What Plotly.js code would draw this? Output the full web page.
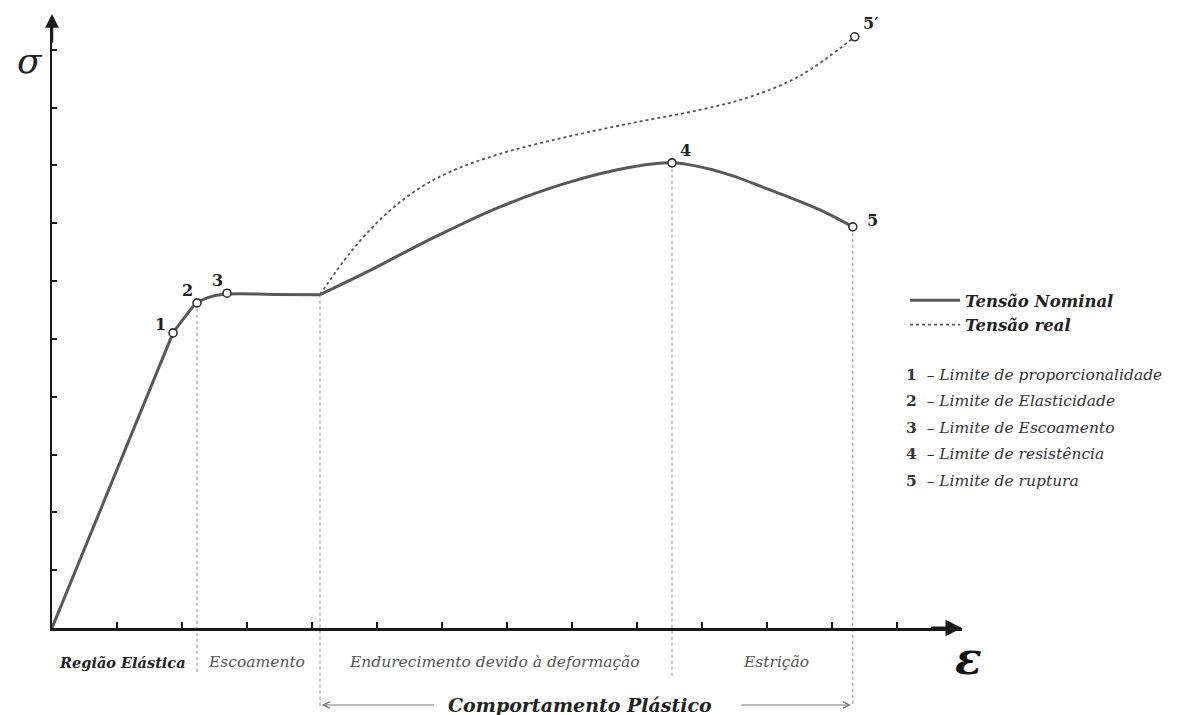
<!DOCTYPE html>
<html><head><meta charset="utf-8">
<script src="https://cdn.plot.ly/plotly-3.0.1.min.js"></script>
<style>html,body{margin:0;padding:0;background:#fff;} #chart{width:1180px;height:715px;}</style>
</head><body><div id="chart"></div>
<script>
// ---- data ----
const xTicks = [1,2,3,4,5,6,7,8,9,10,11,12,13];
const yTicks = [1,2,3,4,5,6,7,8,9,10];

const elasticStrain = [0, 1.862];
const elasticStress = [0, 5.104];

const yieldStrain = [1.862, 2.046, 2.231, 2.462, 2.692, 3.4, 4.123];
const yieldStress = [5.104, 5.381, 5.623, 5.735, 5.775, 5.77, 5.765];

const hardStrain = [4.123, 4.846, 5.862, 6.892, 7.923, 8.938, 9.538, 10.277, 11.046, 11.815, 12.32];
const hardStress = [5.765, 6.159, 6.747, 7.284, 7.699, 7.976, 8.045, 7.889, 7.578, 7.232, 6.938];

const trueStrain = [4.123, 4.585, 5.092, 5.615, 6.123, 6.892, 7.923, 8.938, 9.969, 10.738, 11.508, 12.35];
const trueStress = [5.765, 6.488, 7.111, 7.578, 7.889, 8.201, 8.495, 8.737, 8.962, 9.187, 9.55, 10.225];

const pointLabels = ['1', '2', '3', '4', '5', '5′'];
const pointStrain = [1.862, 2.231, 2.692, 9.538, 12.32, 12.35];
const pointStress = [5.104, 5.623, 5.79, 8.045, 6.938, 10.225];

const seriesNames = ['Tensão Nominal', 'Tensão real'];
const regionLabels = ['Região Elástica', 'Escoamento', 'Endurecimento devido à deformação', 'Estrição'];
const plasticLabel = 'Comportamento Plástico';
const defNumbers = ['1', '2', '3', '4', '5'];
const defTexts = ['Limite de proporcionalidade', 'Limite de Elasticidade', 'Limite de Escoamento', 'Limite de resistência', 'Limite de ruptura'];
const axisSymbols = ['σ', 'ε'];

// ---- styling / layout ----
const SERIF = 'DejaVu Serif, Liberation Serif, serif';
const NOM = '#585858';
const Y_MAX = 10.55;
const X_MAX = 14;
const py = v => v / Y_MAX; // data y -> paper y
const pxY = p => (628 - p) / 610; // pixel row -> paper y
const pxX = p => (p - 52) / 910;  // pixel column -> paper x

const traces = [
  {x: elasticStrain, y: elasticStress, mode: 'lines', name: seriesNames[0], legendgroup: 'nom',
   line: {color: NOM, width: 3}},
  {x: yieldStrain, y: yieldStress, mode: 'lines', legendgroup: 'nom', showlegend: false,
   line: {color: NOM, width: 3, shape: 'spline'}},
  {x: hardStrain, y: hardStress, mode: 'lines', legendgroup: 'nom', showlegend: false,
   line: {color: NOM, width: 3, shape: 'spline'}},
  {x: trueStrain, y: trueStress, mode: 'lines', name: seriesNames[1],
   line: {color: '#555555', width: 1.8, dash: 'dot', shape: 'spline'}},
  {x: pointStrain, y: pointStress, mode: 'markers', showlegend: false, cliponaxis: false,
   marker: {symbol: 'circle', size: 8, color: '#ffffff', line: {color: '#333333', width: 1.6}}}
];

const labelShift = [[-13, 8], [-10, 12], [-9, 13], [14, 12], [20, 6], [16, 13]];

const annotations = [];
pointLabels.forEach((t, i) => {
  annotations.push({x: pointStrain[i], y: pointStress[i], xref: 'x', yref: 'y', text: '<b>' + t + '</b>',
    xanchor: 'center', yanchor: 'middle',
    showarrow: false, xshift: labelShift[i][0], yshift: labelShift[i][1],
    font: {family: SERIF, size: 16, color: '#222'}});
});

// axis symbols
annotations.push({x: pxX(30), y: pxY(60), xref: 'paper', yref: 'paper', text: axisSymbols[0],
  xanchor: 'center', yanchor: 'middle',
  showarrow: false, font: {family: SERIF, size: 36, style: 'italic', color: '#222'}});
annotations.push({x: pxX(968), y: pxY(658), xref: 'paper', yref: 'paper', text: '<b>' + axisSymbols[1] + '</b>',
  xanchor: 'center', yanchor: 'middle', showarrow: false, font: {family: SERIF, size: 44, style: 'italic', color: '#111'}});

// axis arrows
annotations.push({x: 0, y: 10.62, ax: 0, ay: 10.1, xref: 'x', yref: 'y', axref: 'x', ayref: 'y', text: '',
  showarrow: true, arrowhead: 2, arrowsize: 1.1, arrowwidth: 2.5, arrowcolor: '#1a1a1a'});
annotations.push({x: 14.0, y: 0, ax: 13.5, ay: 0, xref: 'x', yref: 'y', axref: 'x', ayref: 'y', text: '',
  showarrow: true, arrowhead: 2, arrowsize: 1.1, arrowwidth: 3, arrowcolor: '#1a1a1a'});

// region labels under the axis
const regionCenters = [1.09, 3.14, 6.8, 11.14];
regionLabels.forEach((t, i) => {
  const bold = i === 0;
  annotations.push({x: regionCenters[i], y: pxY(662), xref: 'x', yref: 'paper', text: bold ? '<b>' + t + '</b>' : t,
    xanchor: 'center', yanchor: 'middle',
    showarrow: false, font: {family: SERIF, size: bold ? 14.5 : 15.5, style: 'italic', color: bold ? '#222' : '#555'}});
});
annotations.push({x: 8.12, y: pxY(705), xref: 'x', yref: 'paper', text: '<b>' + plasticLabel + '</b>',
  xanchor: 'center', yanchor: 'middle',
  showarrow: false, font: {family: SERIF, size: 19, style: 'italic', color: '#222'}});
// plastic-range arrows
annotations.push({x: hardStrain[0] + 0.03, y: pxY(705), ax: 5.9, ay: pxY(705), xref: 'x', yref: 'paper', axref: 'x', ayref: 'paper',
  text: '', showarrow: true, arrowhead: 5, arrowsize: 1.3, arrowwidth: 1, arrowcolor: '#777'});
annotations.push({x: pointStrain[4] - 0.03, y: pxY(705), ax: 10.58, ay: pxY(705), xref: 'x', yref: 'paper', axref: 'x', ayref: 'paper',
  text: '', showarrow: true, arrowhead: 5, arrowsize: 1.3, arrowwidth: 1, arrowcolor: '#777'});

// definitions list
defNumbers.forEach((n, i) => {
  annotations.push({x: pxX(904), y: pxY(374 + i * 26.5), xref: 'paper', yref: 'paper',
    xanchor: 'left', yanchor: 'middle', showarrow: false,
    text: '<b>' + n + '</b>  – <i>' + defTexts[i] + '</i>',
    font: {family: SERIF, size: 15.5, color: '#333'}});
});

// vertical dotted guides (from marked points down past the axis)
const guides = [
  [pointStrain[1], pointStress[1], pxY(672)],
  [yieldStrain[yieldStrain.length - 1], yieldStress[yieldStress.length - 1], pxY(708)],
  [pointStrain[3], pointStress[3], pxY(678)],
  [pointStrain[4], pointStress[4], pxY(706)]
];
const shapes = guides.map(g => ({type: 'line', xref: 'x', yref: 'paper', x0: g[0], x1: g[0], y0: py(g[1]), y1: g[2],
  line: {color: '#888', width: 1, dash: 'dot'}, layer: 'below'}));

const layout = {
  width: 1180, height: 715,
  margin: {l: 52, r: 1180 - 962, t: 18, b: 87, pad: 0},
  paper_bgcolor: '#ffffff', plot_bgcolor: '#ffffff',
  showlegend: true,
  legend: {x: pxX(905), y: pxY(283), xanchor: 'left', yanchor: 'top', itemwidth: 50,
    bgcolor: 'rgba(0,0,0,0)', font: {family: SERIF, size: 16.5, weight: 'bold', style: 'italic', color: '#222'},
    tracegroupgap: 0},
  xaxis: {range: [0, X_MAX], showgrid: false, zeroline: false, showline: true, linecolor: '#1a1a1a', linewidth: 3,
    ticks: 'inside', ticklen: 6, tickwidth: 2, tickcolor: '#1a1a1a', tickmode: 'array', tickvals: xTicks,
    showticklabels: false, fixedrange: true},
  yaxis: {range: [0, Y_MAX], showgrid: false, zeroline: false, showline: true, linecolor: '#1a1a1a', linewidth: 2.5,
    ticks: 'inside', ticklen: 5, tickwidth: 2, tickcolor: '#1a1a1a', tickmode: 'array', tickvals: yTicks,
    showticklabels: false, fixedrange: true},
  annotations: annotations,
  shapes: shapes
};

Plotly.newPlot('chart', traces, layout, {displayModeBar: false, staticPlot: true});
</script>
</body></html>
